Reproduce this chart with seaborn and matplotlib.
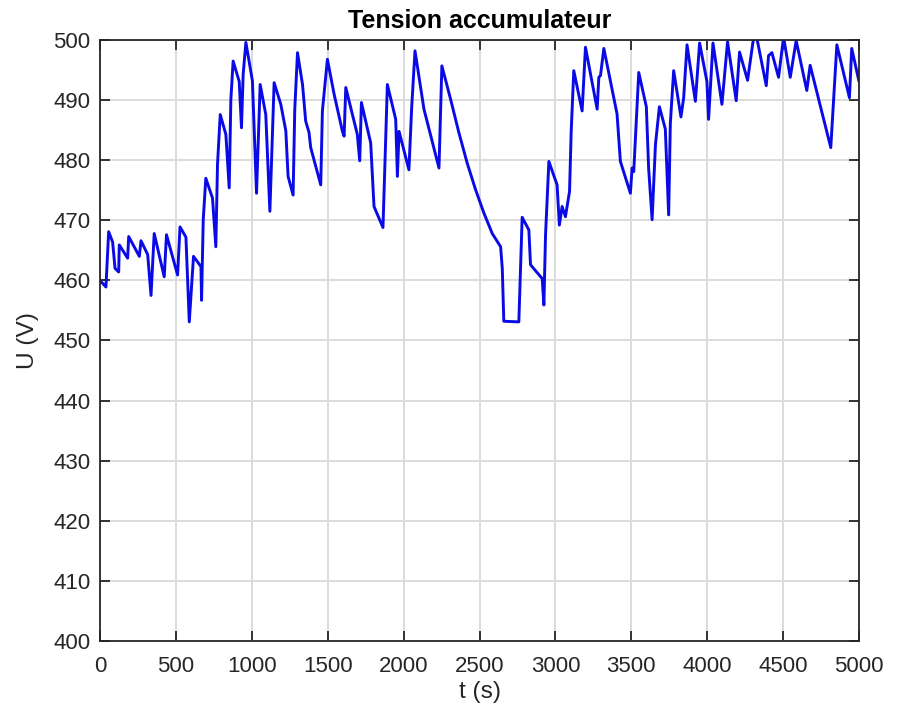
import matplotlib
matplotlib.use("Agg")
import matplotlib.pyplot as plt
import seaborn as sns
import pandas as pd

t_s = [0, 39, 57, 83, 99, 123, 127, 182, 189, 259, 270, 314, 336, 357, 423, 438, 511, 527,
       566, 588, 616, 665, 669, 680, 697, 741, 763, 774, 792, 829, 851, 862, 877, 917, 932,
       943, 961, 1004, 1031, 1055, 1092, 1119, 1147, 1191, 1224, 1239, 1272, 1283, 1301,
       1334, 1355, 1377, 1388, 1454, 1465, 1498, 1542, 1597, 1608, 1619, 1695, 1711, 1722,
       1783, 1805, 1864, 1893, 1948, 1959, 1970, 2035, 2053, 2075, 2134, 2233, 2252, 2310,
       2364, 2419, 2474, 2529, 2584, 2639, 2650, 2660, 2759, 2770, 2781, 2825, 2836, 2913,
       2924, 2935, 2957, 3011, 3026, 3044, 3066, 3093, 3104, 3121, 3176, 3198, 3275, 3286,
       3297, 3319, 3406, 3428, 3494, 3505, 3516, 3549, 3599, 3614, 3637, 3659, 3685, 3724,
       3746, 3757, 3779, 3827, 3845, 3867, 3922, 3950, 3998, 4009, 4038, 4097, 4134, 4191,
       4213, 4266, 4306, 4328, 4389, 4404, 4426, 4470, 4503, 4547, 4586, 4656, 4678, 4814,
       4854, 4937, 4952, 5000]
u_v = [460.0, 458.9, 468.1, 466.4, 462.0, 461.4, 465.9, 463.7, 467.3, 464.0, 466.6, 464.3,
       457.5, 467.8, 460.6, 467.6, 460.9, 468.9, 467.2, 453.1, 464.0, 462.3, 456.7, 470.1,
       477.0, 473.7, 465.6, 479.3, 487.6, 484.3, 475.4, 490.1, 496.5, 493.1, 485.4, 494.3,
       499.6, 493.2, 474.5, 492.6, 487.6, 471.5, 492.9, 489.3, 484.9, 477.3, 474.2, 488.5,
       497.9, 492.6, 486.5, 484.6, 482.1, 475.9, 488.2, 496.8, 491.0, 484.8, 484.0, 492.1,
       484.3, 479.9, 489.6, 482.9, 472.3, 468.8, 492.6, 486.8, 477.3, 484.8, 478.4, 488.7,
       498.2, 488.5, 478.7, 495.7, 490.1, 484.6, 479.5, 475.1, 471.2, 467.8, 465.6, 462.0,
       453.2, 453.1, 462.0, 470.5, 468.4, 462.6, 460.3, 455.9, 467.6, 479.8, 475.9, 469.2,
       472.3, 470.6, 474.8, 484.8, 494.9, 488.2, 498.8, 488.5, 493.8, 494.1, 498.6, 487.7,
       479.8, 474.5, 478.7, 478.1, 494.6, 488.9, 478.7, 470.1, 482.6, 488.9, 485.2, 470.9,
       486.1, 494.9, 487.2, 490.4, 499.2, 489.8, 499.5, 493.1, 486.8, 499.5, 489.3, 499.7,
       489.9, 498.0, 493.3, 500.5, 500.2, 492.4, 497.4, 497.9, 493.8, 500.5, 493.8, 499.9,
       491.6, 495.8, 482.1, 499.2, 490.4, 498.6, 493.1]

x_ticks = [0, 500, 1000, 1500, 2000, 2500, 3000, 3500, 4000, 4500, 5000]
y_ticks = [400, 410, 420, 430, 440, 450, 460, 470, 480, 490, 500]

df = pd.DataFrame({"t": t_s, "U": u_v})

sns.set_theme(style="white")
plt.rcParams["font.family"] = ["Liberation Sans", "DejaVu Sans"]

fig = plt.figure(figsize=(9.01, 7.11), dpi=100)
ax = fig.add_axes([0.1110, 0.0985, 0.8424, 0.8452])

sns.lineplot(data=df, x="t", y="U", ax=ax, color="#0a0ae6", linewidth=2.1,
             estimator=None, sort=False)

ax.set_xlim(0, 5000)
ax.set_ylim(400, 500)
ax.set_xticks(x_ticks)
ax.set_yticks(y_ticks)
ax.set_xticklabels([str(v) for v in x_ticks])
ax.set_yticklabels([str(v) for v in y_ticks])
ax.grid(True, color="#dcdcdc", linewidth=1.4)
ax.set_axisbelow(True)
for s in ax.spines.values():
    s.set_visible(True)
    s.set_color("#262626")
    s.set_linewidth(1.3)
ax.tick_params(direction="in", length=7, width=1.3, colors="#262626",
               labelcolor="#262626", labelsize=16, top=True, right=True,
               bottom=True, left=True)
ax.tick_params(axis="x", pad=11)
ax.tick_params(axis="y", pad=7)
ax.set_xlabel("t (s)", fontsize=17.6, color="#262626", labelpad=3)
ax.set_ylabel("U (V)", fontsize=17.6, color="#262626", labelpad=10)
ax.set_title("Tension accumulateur", fontsize=18, fontweight="bold", color="black", pad=9)

fig.savefig("out.png", dpi=100)
